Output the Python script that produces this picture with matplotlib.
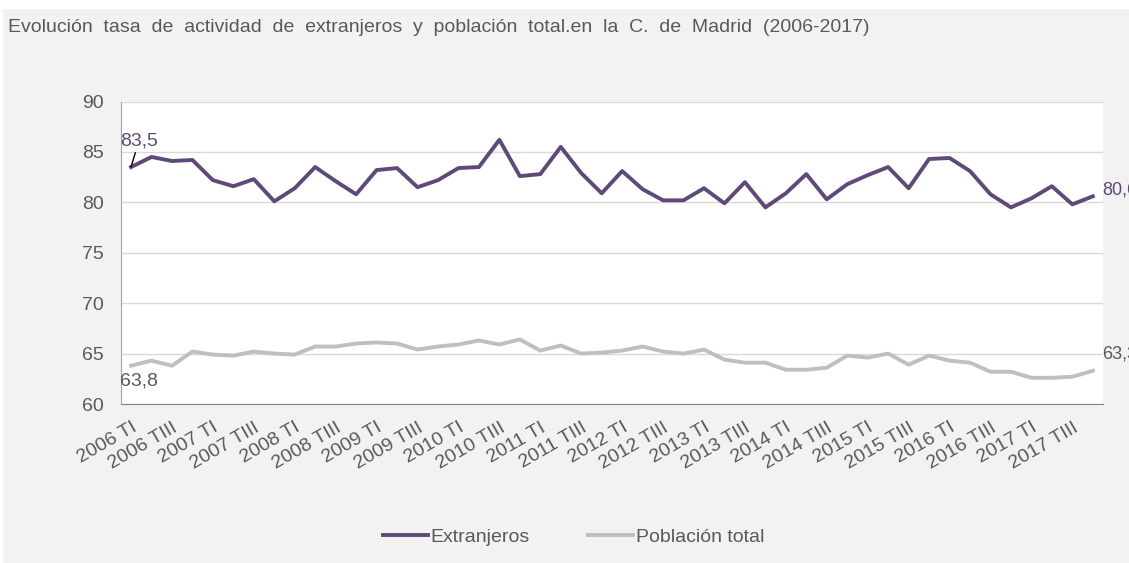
import matplotlib.pyplot as plt
from matplotlib.patches import Rectangle
import numpy as np

# quarters 2006 TI .. 2017 TIV
years = list(range(2006, 2018))
quarters = ['TI', 'TII', 'TIII', 'TIV']
periods = [f'{y} {q}' for y in years for q in quarters]

extranjeros = [83.5, 84.5, 84.1, 84.2, 82.2, 81.6, 82.3, 80.1, 81.4, 83.5, 82.1, 80.8,
               83.2, 83.4, 81.5, 82.2, 83.4, 83.5, 86.2, 82.6, 82.8, 85.5, 82.9, 80.9,
               83.1, 81.3, 80.2, 80.2, 81.4, 79.9, 82.0, 79.5, 80.9, 82.8, 80.3, 81.8,
               82.7, 83.5, 81.4, 84.3, 84.4, 83.1, 80.8, 79.5, 80.4, 81.6, 79.8, 80.6]

poblacion_total = [63.8, 64.3, 63.8, 65.2, 64.9, 64.8, 65.2, 65.0, 64.9, 65.7, 65.7, 66.0,
                   66.1, 66.0, 65.4, 65.7, 65.9, 66.3, 65.9, 66.4, 65.3, 65.8, 65.0, 65.1,
                   65.3, 65.7, 65.2, 65.0, 65.4, 64.4, 64.1, 64.1, 63.4, 63.4, 63.6, 64.8,
                   64.6, 65.0, 63.9, 64.8, 64.3, 64.1, 63.2, 63.2, 62.6, 62.6, 62.7, 63.3]

purple = '#5f497a'
grey_line = '#bfbfbf'
text_grey = '#595959'
fs = 14

plt.rcParams['font.family'] = ['Liberation Sans', 'DejaVu Sans']

fig = plt.figure(figsize=(11.29, 5.63), dpi=100, facecolor='white')
fig.patches.append(Rectangle((3 / 1129, 0), 1, 1 - 9 / 563, transform=fig.transFigure,
                             facecolor='#f2f2f2', edgecolor='none', zorder=-10))

ax = fig.add_axes([0.107, 0.2824, 0.87, 0.5373])
ax.set_facecolor('white')

x = np.arange(len(periods))
ax.plot(x, extranjeros, color=purple, lw=2.8, label='Extranjeros')
ax.plot(x, poblacion_total, color=grey_line, lw=2.8, label='Población total')

ax.set_xlim(-0.5, len(periods) - 0.5)
ax.set_ylim(60, 90)
ax.set_yticks(range(60, 91, 5))
ax.yaxis.grid(True, color='#d9d9d9', lw=1)
ax.set_axisbelow(True)

ax.set_xticks(x[::2])
ax.set_xticklabels(periods[::2], rotation=30, ha='right', rotation_mode='anchor')
ax.tick_params(axis='both', length=0, colors=text_grey, labelsize=fs)
ax.tick_params(axis='x', pad=11)
ax.tick_params(axis='y', pad=12)

for side in ['top', 'right']:
    ax.spines[side].set_visible(False)
ax.spines['left'].set_color('#a6a6a6')
ax.spines['bottom'].set_color('#868686')

# data labels
ax.annotate(f'{extranjeros[0]:.1f}'.replace('.', ','), xy=(x[0], extranjeros[0]),
            xytext=(-0.55, 85.2), color=purple, fontsize=fs, ha='left', va='bottom',
            arrowprops=dict(arrowstyle='-', color='black', lw=1, shrinkA=0, shrinkB=0))
ax.text(-0.55, 62.3, f'{poblacion_total[0]:.1f}'.replace('.', ','), color=text_grey,
        fontsize=fs, ha='left', va='center')
ax.text(len(periods) - 0.55, 81.2, f'{extranjeros[-1]:.1f}'.replace('.', ','), color=purple,
        fontsize=13, ha='left', va='center', clip_on=False)
ax.text(len(periods) - 0.55, 65.0, f'{poblacion_total[-1]:.1f}'.replace('.', ','), color=text_grey,
        fontsize=13, ha='left', va='center', clip_on=False)

fig.text(8 / 1129, 1 - 27 / 563, 'Evolución  tasa  de  actividad  de  extranjeros  y  población  total.en  la  C.  de  Madrid  (2006-2017)',
         color=text_grey, fontsize=fs, ha='left', va='center')

fig.legend(loc='center', bbox_to_anchor=(0.508, 1 - 537 / 563), ncol=2, frameon=False,
           fontsize=fs, labelcolor=text_grey, handlelength=2.3, handletextpad=0.15,
           columnspacing=3.0)

fig.savefig('out.png', dpi=100, facecolor=fig.get_facecolor())
